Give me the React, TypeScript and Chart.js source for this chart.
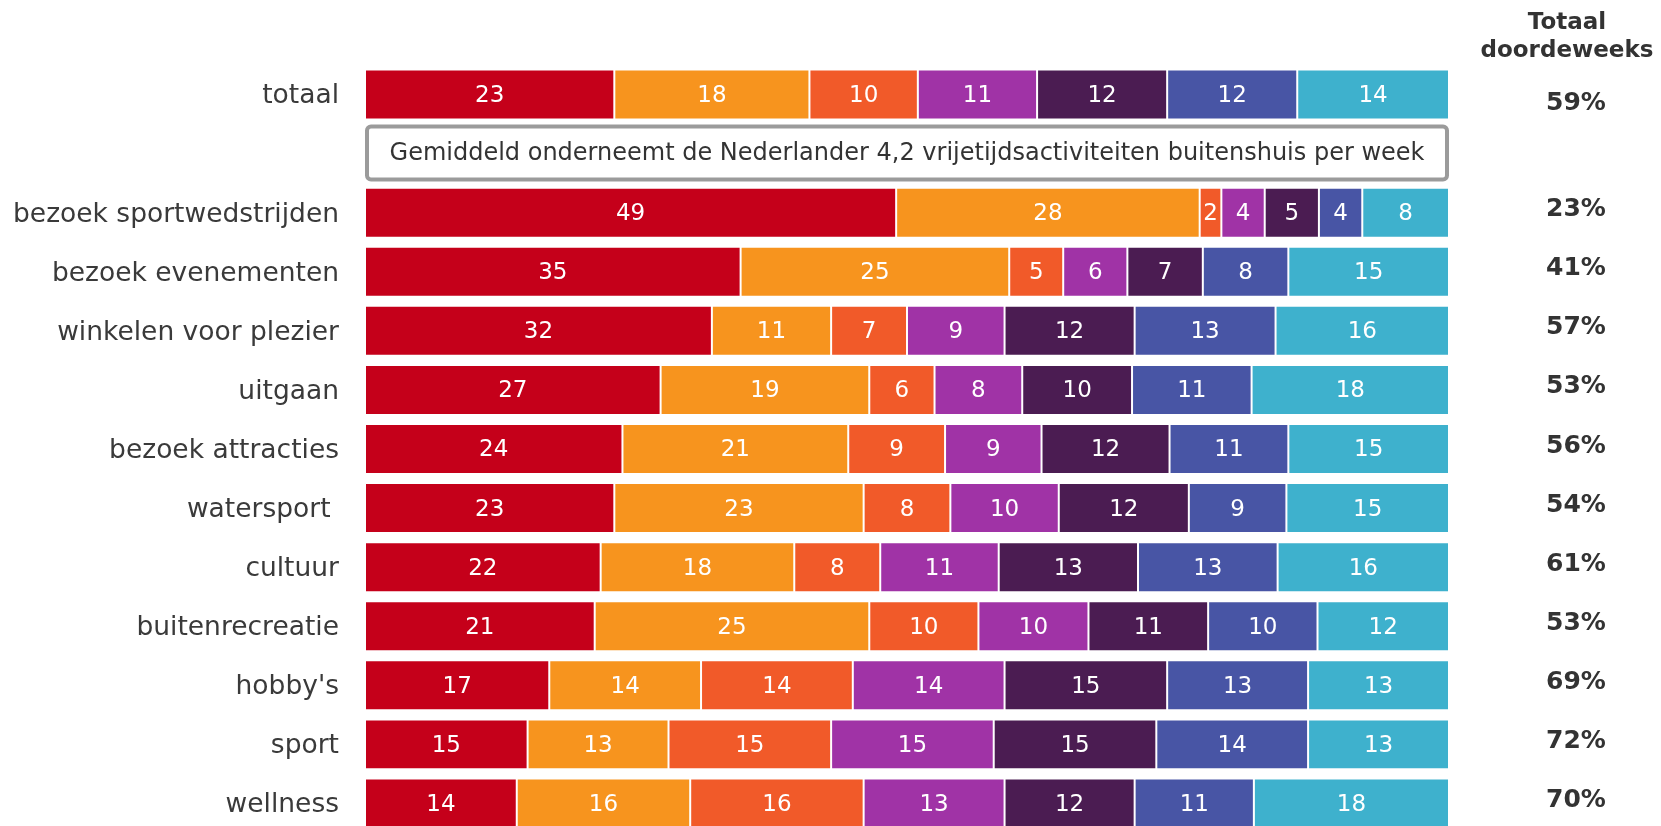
import React, { useEffect, useRef } from "react";
import { Chart, registerables } from "chart.js";

Chart.register(...registerables);

const categories = [
  "totaal",
  "",
  "bezoek sportwedstrijden",
  "bezoek evenementen",
  "winkelen voor plezier",
  "uitgaan",
  "bezoek attracties",
  "watersport ",
  "cultuur",
  "buitenrecreatie",
  "hobby's",
  "sport",
  "wellness",
];

const seriesNames = ["Categorie 1", "Categorie 2", "Categorie 3", "Categorie 4", "Categorie 5", "Categorie 6", "Categorie 7"];

const series1 = [23, null, 49, 34.65, 32, 27.27, 23.75, 23, 21.74, 21.19, 17, 15, 14];
const series2 = [18, null, 28, 24.78, 11, 19.25, 20.83, 23, 17.86, 25.33, 14, 13, 16];
const series3 = [10, null, 2, 4.98, 7, 6.02, 8.93, 8, 7.93, 10.07, 14, 15, 16];
const series4 = [11, null, 4, 5.92, 9, 8.09, 8.9, 10, 10.93, 10.15, 14, 15, 13];
const series5 = [12, null, 5, 6.96, 12, 10.13, 11.81, 12, 12.85, 11.04, 15, 15, 12];
const series6 = [12, null, 4, 7.89, 13, 11.03, 10.96, 9, 12.88, 10.09, 13, 14, 11];
const series7 = [14, null, 8, 14.82, 16, 18.21, 14.82, 15, 15.81, 12.13, 13, 13, 18];

const seriesColors = ["#C5001A", "#F7941E", "#F15A29", "#A033A6", "#4B1C52", "#4855A5", "#3EB1CD"];

const weekdayTotals = [59, null, 23, 41, 57, 53, 56, 54, 61, 53, 69, 72, 70];
const columnTitle = ["Totaal", "doordeweeks"];
const boxText = "Gemiddeld onderneemt de Nederlander 4,2 vrijetijdsactiviteiten buitenshuis per week";

const FONT = '"DejaVu Sans", Verdana, sans-serif';

const overlayPlugin = {
  id: "overlay",
  afterDatasetsDraw(chart: any) {
    const ctx = chart.ctx;
    ctx.save();
    ctx.font = `23px ${FONT}`;
    ctx.fillStyle = "#ffffff";
    ctx.textAlign = "center";
    ctx.textBaseline = "middle";
    chart.data.datasets.forEach((ds: any, di: number) => {
      const meta = chart.getDatasetMeta(di);
      meta.data.forEach((bar: any, i: number) => {
        const v = ds.data[i];
        if (v == null) return;
        const p = bar.getProps(["x", "base", "y"], true);
        ctx.fillText(String(Math.round(v)), (p.x + p.base) / 2, p.y + 1.5);
      });
    });

    // info box on the empty row
    const xs = chart.scales.x;
    const ys = chart.scales.y;
    const left = xs.getPixelForValue(0);
    const right = xs.getPixelForValue(100);
    const yc = ys.getPixelForValue(1);
    const top = yc - 29;
    const h = 57;
    ctx.beginPath();
    if (ctx.roundRect) ctx.roundRect(left + 2, top + 2, right - left - 4, h - 4, 4);
    else ctx.rect(left + 2, top + 2, right - left - 4, h - 4);
    ctx.fillStyle = "#ffffff";
    ctx.fill();
    ctx.lineWidth = 4;
    ctx.strokeStyle = "#9b9b9b";
    ctx.stroke();
    ctx.fillStyle = "#333333";
    ctx.font = `24px ${FONT}`;
    ctx.fillText(boxText, (left + right) / 2, yc);
    ctx.restore();
  },
  afterDraw(chart: any) {
    const ctx = chart.ctx;
    const ys = chart.scales.y;
    ctx.save();
    ctx.fillStyle = "#333333";
    ctx.textAlign = "center";
    ctx.textBaseline = "middle";
    ctx.font = `bold 23px ${FONT}`;
    const hx = chart.chartArea.right + 118;
    ctx.fillText(columnTitle[0], hx, 23);
    ctx.fillText(columnTitle[1], hx, 51);
    ctx.font = `bold 25px ${FONT}`;
    const px = chart.chartArea.right + 127;
    weekdayTotals.forEach((v, i) => {
      if (v == null) return;
      const y = ys.getPixelForValue(i) + (i === 0 ? 8.5 : -3);
      ctx.fillText(`${v}%`, px, y);
    });
    ctx.restore();
  },
};

export default function App() {
  const ref = useRef<HTMLCanvasElement>(null);
  useEffect(() => {
    if (!ref.current) return;
    const data = [series1, series2, series3, series4, series5, series6, series7];
    const chart = new Chart(ref.current, {
      type: "bar",
      data: {
        labels: categories,
        datasets: data.map((d, i) => ({
          label: seriesNames[i],
          data: d,
          backgroundColor: seriesColors[i],
          borderColor: "rgba(255,255,255,0.25)",
          borderWidth: 1,
          borderSkipped: false,
          barPercentage: 0.846,
          categoryPercentage: 1,
        })),
      },
      options: {
        indexAxis: "y",
        responsive: false,
        maintainAspectRatio: false,
        devicePixelRatio: 1,
        animation: false,
        layout: { padding: { top: 65, right: 212, bottom: 17, left: 0 } },
        plugins: { legend: { display: false }, tooltip: { enabled: false } },
        scales: {
          x: { stacked: true, min: 0, max: 100, display: false },
          y: {
            stacked: true,
            grid: { display: false, drawTicks: false },
            border: { display: false },
            afterFit: (scale: any) => {
              scale.width = 365;
              scale.paddingTop = 0;
              scale.paddingBottom = 0;
            },
            ticks: {
              autoSkip: false,
              padding: 26,
              labelOffset: 2,
              color: "#3a3a3a",
              font: { family: FONT, size: 26.5 },
            },
          },
        },
      },
      plugins: [overlayPlugin],
    } as any);
    return () => chart.destroy();
  }, []);
  return (
    <div style={{ position: "fixed", top: 0, left: 0, width: 1661, height: 826, overflow: "hidden", background: "#fff" }}>
      <canvas ref={ref} width={1661} height={850} style={{ display: "block", width: 1661, height: 850 }} />
    </div>
  );
}
